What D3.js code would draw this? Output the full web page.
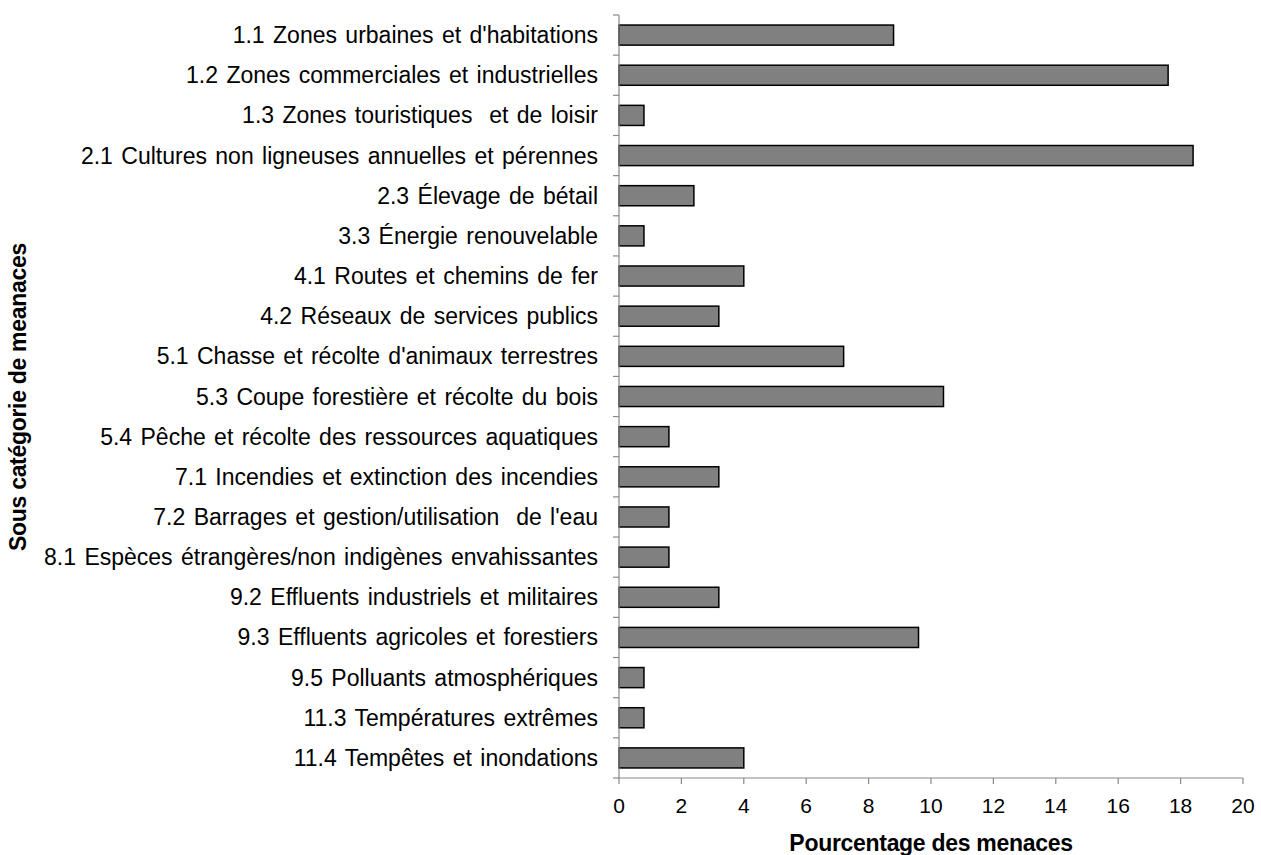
<!DOCTYPE html>
<html><head><meta charset="utf-8">
<script src="https://cdn.jsdelivr.net/npm/d3@7"></script>
<style>body{margin:0;background:#fff}text{font-family:"Liberation Sans",Arial,sans-serif}</style>
</head><body><svg id="c" width="1261" height="855"></svg>
<script>
const categories = ["1.1 Zones urbaines et d'habitations","1.2 Zones commerciales et industrielles","1.3 Zones touristiques  et de loisir","2.1 Cultures non ligneuses annuelles et pérennes","2.3 Élevage de bétail","3.3 Énergie renouvelable","4.1 Routes et chemins de fer","4.2 Réseaux de services publics","5.1 Chasse et récolte d'animaux terrestres","5.3 Coupe forestière et récolte du bois","5.4 Pêche et récolte des ressources aquatiques","7.1 Incendies et extinction des incendies","7.2 Barrages et gestion/utilisation  de l'eau","8.1 Espèces étrangères/non indigènes envahissantes","9.2 Effluents industriels et militaires","9.3 Effluents agricoles et forestiers","9.5 Polluants atmosphériques","11.3 Températures extrêmes","11.4 Tempêtes et inondations"];
const values = [8.8,17.6,0.8,18.4,2.4,0.8,4.0,3.2,7.2,10.4,1.6,3.2,1.6,1.6,3.2,9.6,0.8,0.8,4.0];
const xTicks = [0,2,4,6,8,10,12,14,16,18,20];
const xTitle = "Pourcentage des menaces";
const yTitle = "Sous catégorie de meanaces";

const svg = d3.select("#c");
const L = 619, R = 1243, T = 15, B = 778;
const x = d3.scaleLinear().domain([0,20]).range([L,R]);
const y = d3.scaleBand().domain(categories).range([T,B]).paddingInner(0.5).paddingOuter(0.25);
const yb = d3.scaleBand().domain(categories).range([T,B]);

svg.append("g").selectAll("rect").data(values).join("rect")
  .attr("x", x(0)).attr("y",(d,i)=>y(categories[i]))
  .attr("width", d=>x(d)-x(0)).attr("height", y.bandwidth())
  .attr("fill","#808080").attr("stroke","#000").attr("stroke-width",1.5);

const ax = svg.append("g").attr("stroke","#888").attr("stroke-width",1.2);
ax.append("line").attr("x1",L).attr("x2",L).attr("y1",T).attr("y2",B);
const bounds = categories.map(c=>yb(c)).concat([B]);
ax.selectAll("line.yt").data(bounds).join("line").attr("class","yt")
  .attr("x1",L-6).attr("x2",L).attr("y1",d=>d).attr("y2",d=>d);
ax.append("line").attr("x1",L).attr("x2",R).attr("y1",B).attr("y2",B);
ax.selectAll("line.xt").data(xTicks).join("line").attr("class","xt")
  .attr("x1",d=>x(d)).attr("x2",d=>x(d)).attr("y1",B).attr("y2",B+6);

svg.append("g").selectAll("text").data(categories).join("text")
  .attr("x", 598).attr("y", d=>yb(d)+yb.bandwidth()/2)
  .attr("text-anchor","end").attr("dominant-baseline","central")
  .attr("font-size",23).attr("word-spacing","2").attr("fill","#000").style("white-space","pre").text(d=>d);

svg.append("g").selectAll("text").data(xTicks).join("text")
  .attr("x",d=>x(d)).attr("y",805).attr("text-anchor","middle").attr("dominant-baseline","central")
  .attr("font-size",21).text(d=>d);

svg.append("text").attr("x",931).attr("y",843).attr("text-anchor","middle").attr("dominant-baseline","central")
  .attr("font-size",23).attr("font-weight","bold").attr("letter-spacing","-0.3").text(xTitle);
svg.append("text").attr("transform","translate(18,397) rotate(-90)").attr("text-anchor","middle").attr("dominant-baseline","central")
  .attr("font-size",23).attr("font-weight","bold").attr("letter-spacing","-0.3").text(yTitle);
</script></body></html>
